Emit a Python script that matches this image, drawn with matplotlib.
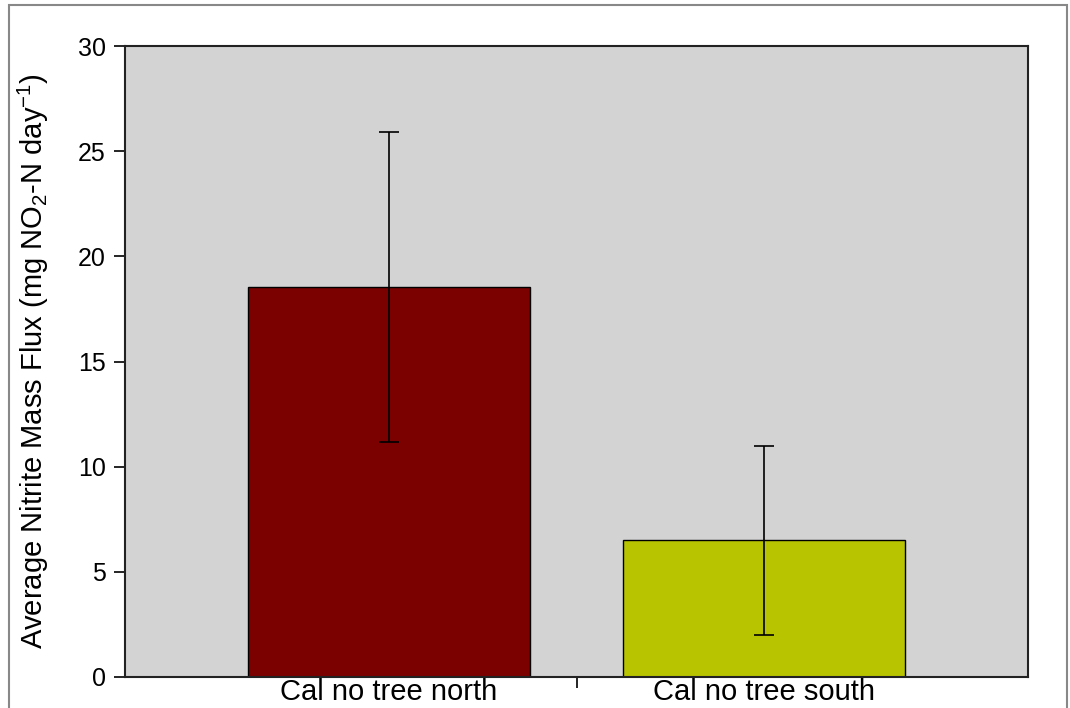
import numpy as np
import matplotlib.pyplot as plt
from matplotlib.patches import Rectangle

# === Dados ===
sites = ["Cal no tree north", "Cal no tree south"]
mean_flux = [18.55, 6.5]
std_err = [7.38, 4.5]
bar_colors = ["#7b0000", "#b9c400"]

plt.rcParams['font.family'] = ['Liberation Sans', 'DejaVu Sans']
plt.rcParams['mathtext.default'] = 'regular'

fig = plt.figure(figsize=(10.7, 7.08), dpi=100)
ax = fig.add_axes([125 / 1070, 1 - 677 / 708, 903 / 1070, 631 / 708])
ax.set_facecolor('#d3d3d3')

x = np.arange(len(sites))
ax.bar(x, mean_flux, width=0.75, color=bar_colors, edgecolor='black', linewidth=1.0, zorder=2)
ax.errorbar(x, mean_flux, yerr=std_err, fmt='none', ecolor='black', elinewidth=1.2,
            capsize=7, capthick=1.2, zorder=3)

ax.set_xlim(-0.704, 1.704)
ax.set_ylim(0, 30)
ax.set_yticks([0, 5, 10, 15, 20, 25, 30])

# tick do eixo x só entre as barras; rótulos centrados nas barras
ax.set_xticks([0.5])
ax.set_xticklabels([''])
ax.set_xticks(x, minor=True)
ax.set_xticklabels(sites, minor=True)
ax.tick_params(axis='x', which='minor', length=0, pad=1, labelsize=21)
ax.tick_params(axis='x', which='major', length=8, width=1.2, direction='out')
ax.tick_params(axis='y', length=8, width=1.2, direction='out', labelsize=18, pad=6)

for s in ax.spines.values():
    s.set_linewidth(1.5)
    s.set_color('#222222')

ax.set_ylabel('Average Nitrite Mass Flux (mg NO$_2$-N day$^{-1}$)', fontsize=21)
ax.yaxis.set_label_coords(-0.082, 0.5)

# borda cinza em volta da figura
fig.patches.append(Rectangle((9 / 1070, -0.05), 1058 / 1070, 1 - 5 / 708 + 0.05,
                             transform=fig.transFigure, fill=False,
                             edgecolor='#888888', linewidth=1.5))

fig.savefig('out.png', dpi=100)
